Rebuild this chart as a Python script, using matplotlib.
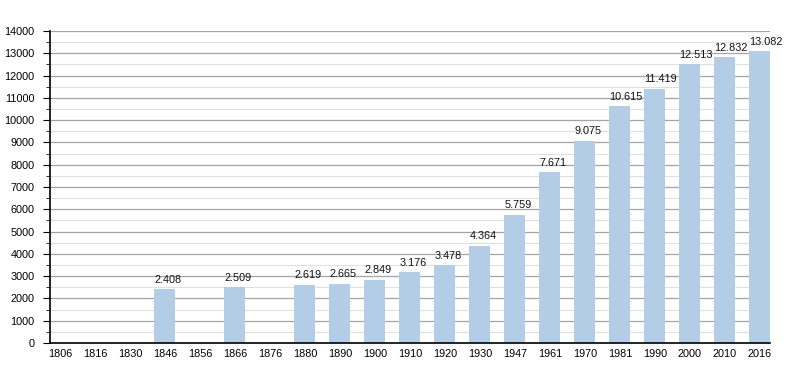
import matplotlib
matplotlib.use("Agg")
import matplotlib.pyplot as plt
from matplotlib.ticker import MultipleLocator
import numpy as np

plt.rcParams['font.family'] = ['Liberation Sans', 'DejaVu Sans']

years = ["1806", "1816", "1830", "1846", "1856", "1866", "1876", "1880", "1890",
         "1900", "1910", "1920", "1930", "1947", "1961", "1970", "1981", "1990",
         "2000", "2010", "2016"]
population = [None, None, None, 2408, None, 2509, None, 2619, 2665,
              2849, 3176, 3478, 4364, 5759, 7671, 9075, 10615, 11419,
              12513, 12832, 13082]

fig = plt.figure(figsize=(8, 3.73), dpi=100)
ax = fig.add_axes([0.0625, 0.0804, 0.9, 0.8365])

x = np.arange(len(years))
width = 0.6
vals = np.array([v if v is not None else 0 for v in population], dtype=float)
ax.bar(x, vals, width=width, color="#b3cde6", zorder=2)

# value labels start at the left edge of each bar
for xi, v in zip(x, population):
    if v is None:
        continue
    label = f"{v:,}".replace(",", ".")
    ax.text(xi - width / 2, v + 200, label, ha="left", va="bottom",
            fontsize=7.8, color="#111111", zorder=3)

ax.set_xlim(-0.286, 20.29)
ax.set_ylim(0, 14000)
ax.set_xticks(x)
ax.set_xticklabels(years)
ax.yaxis.set_major_locator(MultipleLocator(1000))
ax.yaxis.set_minor_locator(MultipleLocator(500))
ax.grid(axis="y", which="major", color="#a4a4a4", linewidth=0.9, zorder=0)
ax.grid(axis="y", which="minor", color="#e0e0e0", linewidth=0.8, zorder=0)
ax.set_axisbelow(True)

for side in ["top", "right"]:
    ax.spines[side].set_visible(False)
ax.spines["left"].set_linewidth(1.2)
ax.spines["bottom"].set_linewidth(1.2)
ax.tick_params(axis="x", length=0, labelsize=7.8, pad=4)
ax.tick_params(axis="y", which="major", length=5, labelsize=7.8, pad=6)
ax.tick_params(axis="y", which="minor", length=3)

fig.savefig("out.png", dpi=100)
